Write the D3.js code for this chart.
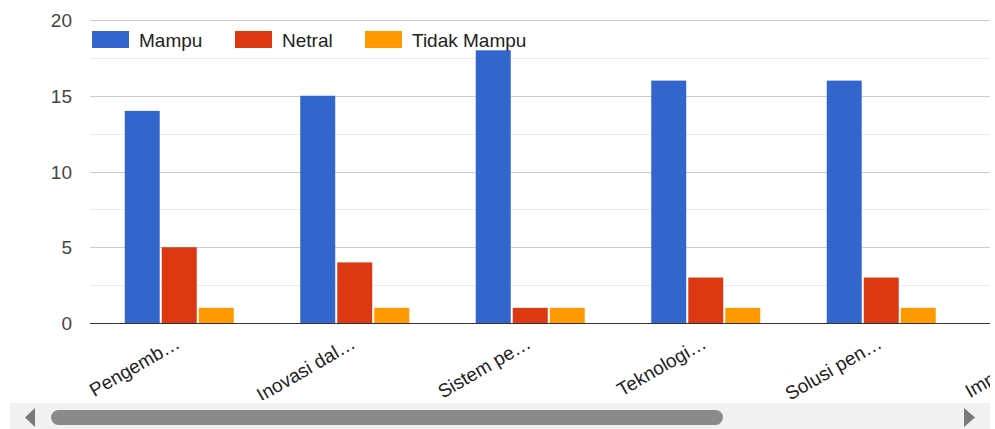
<!DOCTYPE html>
<html>
<head>
<meta charset="utf-8">
<script src="https://cdn.jsdelivr.net/npm/d3@7"></script>
<style>
  html, body { margin: 0; padding: 0; background: #fff; }
  svg { display: block; font-family: Arial, "Liberation Sans", sans-serif; }
</style>
</head>
<body>
<svg id="chart" width="995" height="429"></svg>
<script>
// Categories (truncated labels as shown on the axis)
const categories = ["Pengemb\u2026", "Inovasi dal\u2026", "Sistem pe\u2026", "Teknologi\u2026", "Solusi pen\u2026", "Implemen\u2026"];
const seriesNames = ["Mampu", "Netral", "Tidak Mampu"];
const mampu      = [14, 15, 18, 16, 16];
const netral     = [5, 4, 1, 3, 3];
const tidakMampu = [1, 1, 1, 1, 1];
const yTicks = [0, 5, 10, 15, 20];
const yMinorTicks = [2.5, 7.5, 12.5, 17.5];
const colors = ["#3366cc", "#dc3912", "#ff9900"];

const seriesValues = [mampu, netral, tidakMampu];

const svg = d3.select("#chart");
const plotLeft = 90, viewRight = 990, plotTop = 20, baseY = 323;
const step = 175.5, groupW = 109;

const x = d3.scaleBand()
  .domain(categories)
  .range([plotLeft + 1.5, plotLeft + 1.5 + step * categories.length])
  .paddingInner(0).paddingOuter(0);

const y = d3.scaleLinear().domain([0, 20]).range([baseY, plotTop]);

const inner = d3.scaleBand().domain(seriesNames).range([0, groupW]).paddingInner(0.055);

svg.append("defs").append("clipPath").attr("id", "viewClip")
  .append("rect").attr("x", 0).attr("y", 0).attr("width", viewRight).attr("height", 400);

const plot = svg.append("g").attr("clip-path", "url(#viewClip)");

// Gridlines
plot.selectAll("line.minor").data(yMinorTicks).join("line")
  .attr("class", "minor")
  .attr("x1", plotLeft).attr("x2", viewRight + 20)
  .attr("y1", d => Math.round(y(d)) + 0.5).attr("y2", d => Math.round(y(d)) + 0.5)
  .attr("stroke", "#ebebeb").attr("stroke-width", 1);
plot.selectAll("line.major").data(yTicks.filter(d => d !== 0)).join("line")
  .attr("class", "major")
  .attr("x1", plotLeft).attr("x2", viewRight + 20)
  .attr("y1", d => Math.round(y(d)) + 0.5).attr("y2", d => Math.round(y(d)) + 0.5)
  .attr("stroke", "#cccccc").attr("stroke-width", 1);

// Bars
const rows = mampu.map((_, i) => ({ cat: categories[i], vals: seriesValues.map(s => s[i]) }));
const groups = plot.selectAll("g.grp").data(rows).join("g")
  .attr("class", "grp")
  .attr("transform", d => `translate(${x(d.cat) + (x.bandwidth() - groupW) / 2},0)`);
groups.selectAll("rect").data(d => d.vals.map((v, j) => ({ v, j }))).join("rect")
  .attr("x", d => inner(seriesNames[d.j]))
  .attr("width", inner.bandwidth())
  .attr("y", d => y(d.v))
  .attr("height", d => y(0) - y(d.v))
  .attr("fill", d => colors[d.j]);

// Baseline
plot.append("line")
  .attr("x1", plotLeft).attr("x2", viewRight + 20)
  .attr("y1", baseY + 0.5).attr("y2", baseY + 0.5)
  .attr("stroke", "#333").attr("stroke-width", 1.2);

// Category labels, slanted
plot.selectAll("text.cat").data(categories).join("text")
  .attr("class", "cat")
  .attr("transform", d => `translate(${x(d) + x.bandwidth() / 2 + 2},${baseY + 24}) rotate(-30)`)
  .attr("text-anchor", "end")
  .attr("font-size", 19)
  .attr("fill", "#222")
  .text(d => d);

// Y axis labels
svg.selectAll("text.ytick").data(yTicks).join("text")
  .attr("class", "ytick")
  .attr("x", 72).attr("y", d => y(d) + 7)
  .attr("text-anchor", "end")
  .attr("font-size", 19)
  .attr("fill", "#444")
  .text(d => d);

// Legend
const legendX = [92, 235, 365];
const leg = svg.selectAll("g.leg").data(seriesNames).join("g")
  .attr("class", "leg")
  .attr("transform", (d, i) => `translate(${legendX[i]},31)`);
leg.append("rect").attr("width", 37).attr("height", 17).attr("fill", (d, i) => colors[i]);
leg.append("text").attr("x", 47).attr("y", 16).attr("font-size", 19).attr("fill", "#222").text(d => d);

// Horizontal scrollbar
svg.append("rect").attr("x", 10).attr("y", 403).attr("width", 980).attr("height", 26).attr("fill", "#f1f1f1");
svg.append("rect").attr("x", 51).attr("y", 410).attr("width", 672).attr("height", 15).attr("rx", 7.5).attr("fill", "#8a8a8a");
svg.append("path").attr("d", "M35,408 L25,417.5 L35,427 Z").attr("fill", "#7a7a7a");
svg.append("path").attr("d", "M964,408 L975,417.5 L964,427 Z").attr("fill", "#7a7a7a");
</script>
</body>
</html>
